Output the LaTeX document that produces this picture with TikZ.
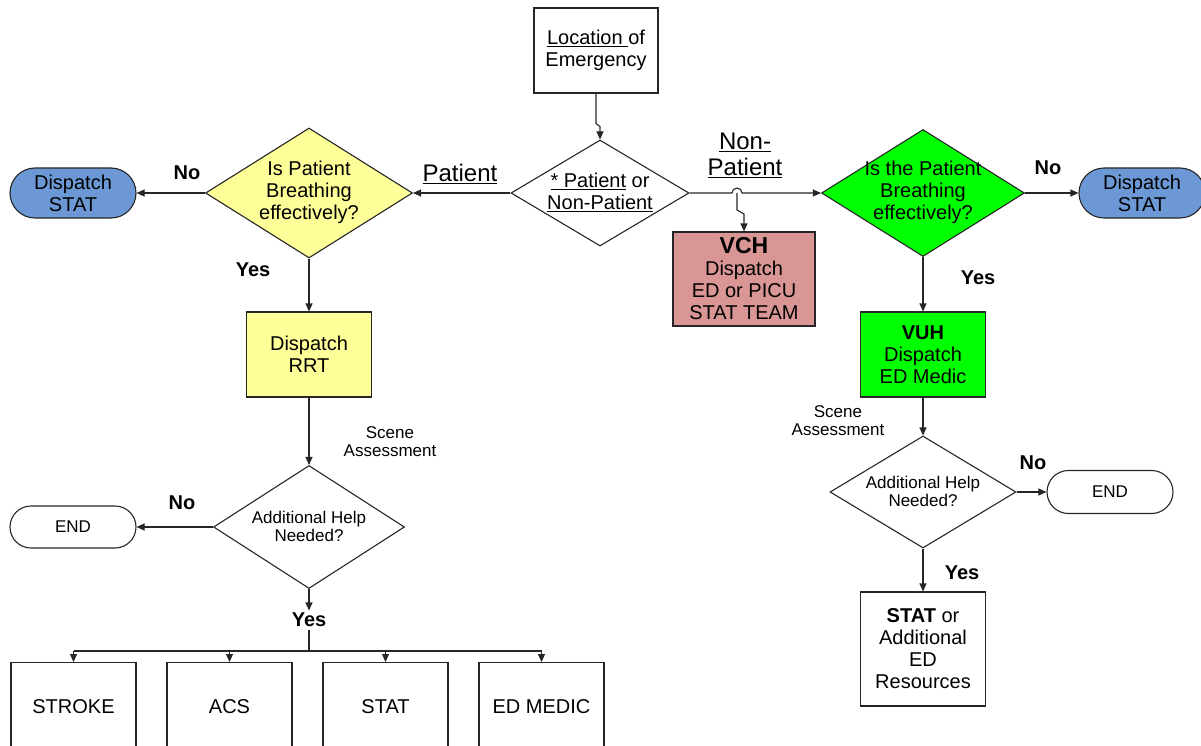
\documentclass[tikz,border=0pt]{standalone}
\usepackage{fontspec}
\setmainfont{Liberation Sans}
\usetikzlibrary{shapes.geometric,shapes.misc,arrows.meta}
\definecolor{rrtyellow}{RGB}{255,255,153}
\definecolor{statblue}{RGB}{108,153,214}
\definecolor{vchpink}{RGB}{217,150,148}
\definecolor{vuhgreen}{RGB}{0,255,0}

\begin{document}
\begin{tikzpicture}[x=1pt,y=-1pt,line width=1.1pt,draw=black!85,
	arr/.style={-{Triangle[length=8pt,width=7pt]}},
	txt/.style={align=center,font=\fontsize{20}{22}\selectfont},
	small/.style={align=center,font=\fontsize{17}{18}\selectfont},
	big/.style={align=center,font=\fontsize{24}{26}\selectfont},
	ans/.style={inner sep=2pt,font=\fontsize{20}{22}\selectfont\bfseries},
	box/.style={draw,rectangle,txt,minimum width=125pt,inner sep=0pt},
	dia/.style={draw,diamond,inner sep=0pt},
	pill/.style={draw,rounded rectangle,minimum width=126pt,inner sep=0pt}]
	\useasboundingbox (0,0) rectangle (1201,746);
	\clip (0,0) rectangle (1201,746);

	\node[box,minimum width=124pt,minimum height=85pt] (loc) at (596,50.5) {\underline{Location\ }of\\Emergency};
	\node[dia,minimum width=178pt,minimum height=106pt] (pnp) at (600,193) {};
	\node[txt] (pnpt) at (600,192) {\underline{* Patient} or\\\underline{Non-Patient}};
	\draw[arr] (loc.south) -- ++(0,30) -- ++(4,3) -- (pnp.north);

	\node[dia,fill=rrtyellow,minimum width=207pt,minimum height=130pt] (brL) at (309,193) {};
	\node[txt] (brLt) at (309,192) {Is Patient\\Breathing\\effectively?};
	\node[pill,txt,fill=statblue,minimum height=50pt] (statL) at (73,193) {Dispatch\\STAT};
	\node[box,fill=rrtyellow,minimum height=85pt] (rrt) at (309,354.5) {Dispatch\\RRT};
	\node[dia,minimum width=191pt,minimum height=123pt] (helpL) at (309,527) {};
	\node[small] (helpLt) at (309,526) {Additional Help\\Needed?};
	\node[pill,small,minimum height=42pt] (endL) at (73,527) {END};

	\draw[arr] (pnp.west) -- (brL.east);
	\draw[arr] (brL.west) -- (statL.east);
	\draw[arr] (brL.south) -- (rrt.north);
	\draw[arr] (rrt.south) -- (helpL.north);
	\draw[arr] (helpL.west) -- (endL.east);

	\node[big] (patlab) at (460,174) {\underline{Patient}};
	\node[ans] (noL) at (187,173) {No};
	\node[ans] (yesBrL) at (253,270) {Yes};
	\node[small] (sceneL) at (390,442) {Scene\\Assessment};
	\node[ans] (noHL) at (182,503) {No};
	\node[ans] (yesHL) at (309,620) {Yes};

	\foreach \name/\x/\lab in {stroke/73.5/STROKE,acs/229.5/ACS,stat/385.5/STAT,medic/541.5/ED MEDIC}
		\node[box,minimum height=88pt,anchor=north] (\name) at (\x,662) {\lab};
	\coordinate (bus) at (309,651);
	\draw[arr] (helpL.south) -- (yesHL.north);
	\draw (yesHL.south) -- (bus);
	\draw (bus -| stroke.north) -- (bus -| medic.north);
	\foreach \name in {stroke,acs,stat,medic}
		\draw[arr] (bus -| \name.north) -- (\name.north);

	\node[dia,fill=vuhgreen,minimum width=203pt,minimum height=127pt] (brR) at (923,193) {};
	\node[txt] (brRt) at (923,192) {Is the Patient\\Breathing\\effectively?};
	\node[pill,txt,fill=statblue,minimum height=50pt] (statR) at (1142,193) {Dispatch\\STAT};
	\node[box,fill=vchpink,minimum width=142pt,minimum height=94pt] (vch) at (744,279) {{\fontsize{23}{24}\selectfont\bfseries VCH}\\Dispatch\\ED or PICU\\STAT TEAM};
	\node[box,fill=vuhgreen,minimum height=85pt] (vuh) at (923,354.5) {{\bfseries VUH}\\Dispatch\\ED Medic};
	\node[dia,minimum width=186pt,minimum height=112pt] (helpR) at (923,492) {};
	\node[small] (helpRt) at (923,491) {Additional Help\\Needed?};
	\node[pill,small,minimum height=43pt] (endR) at (1110,492) {END};
	\node[box,minimum height=114pt] (res) at (923,649) {{\bfseries STAT} or\\Additional\\ED\\Resources};

	\coordinate (hop) at (737,193);
	\draw[arr] (pnp.east) -- ([xshift=-5pt]hop) arc[start angle=180,end angle=0,radius=5pt] -- (brR.west);
	\draw[arr] (hop) -- ++(0,17) -- ++(7,4) -- (vch.north);
	\draw[arr] (brR.east) -- (statR.west);
	\draw[arr] (brR.south) -- (vuh.north);
	\draw[arr] (vuh.south) -- (helpR.north);
	\draw[arr] (helpR.east) -- (endR.west);
	\draw[arr] (helpR.south) -- (res.north);

	\node[big] (nonpatlab) at (745,155) {\underline{Non-}\\\underline{Patient}};
	\node[ans] (noR) at (1048,168) {No};
	\node[ans] (yesBrR) at (978,278) {Yes};
	\node[small] (sceneR) at (838,421) {Scene\\Assessment};
	\node[ans] (noHR) at (1033,463) {No};
	\node[ans] (yesHR) at (962,573) {Yes};
\end{tikzpicture}
\end{document}
